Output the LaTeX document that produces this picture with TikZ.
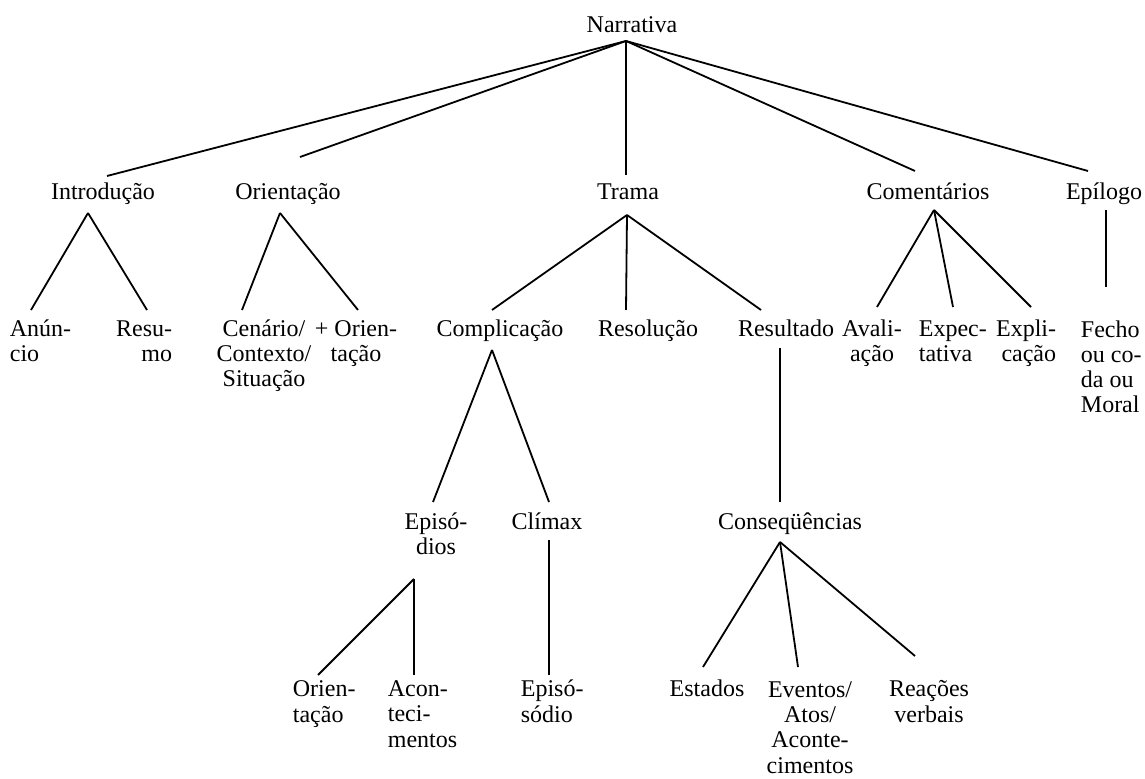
\documentclass[tikz,border=0pt]{standalone}
\usepackage{fontspec}
\setmainfont{Liberation Serif}
\usepackage{tikz}

\begin{document}
\begin{tikzpicture}[
        x=0.5pt, y=-0.5pt,
        line width=0.9pt,
        every node/.style={inner sep=0pt, font=\fontsize{12}{12.6}\selectfont},
        lab/.style={anchor=base},
        labl/.style={anchor=base west, align=left},
        labr/.style={anchor=base east, align=right},
        labc/.style={anchor=base, align=center}
        ]
        \useasboundingbox (0,0) rectangle (1145,779);

        % nivel 1 e 2
        \node[lab] (narr) at (632,33) {Narrativa};
        \node[lab] (intro) at (103,200) {Introdução};
        \node[lab] (orient) at (288,200) {Orientação};
        \node[lab] (trama) at (628,200) {Trama};
        \node[lab] (coment) at (928,200) {Comentários};
        \node[lab] (epil) at (1104,200) {Epílogo};

        % nivel 3 (base = ultima linha)
        \node[labl] (anun) at (9,362) {Anún-\\cio};
        \node[labr] (resumo) at (173,362) {Resu-\\mo};
        \node[labc] (cenario) at (264,387) {Cenário/\\Contexto/\\Situação};
        \node[labc] (maisor) at (356,362) {+ Orien-\\tação};
        \node[lab] (compl) at (500,337) {Complicação};
        \node[lab] (resol) at (648,337) {Resolução};
        \node[lab] (result) at (786,337) {Resultado};
        \node[labc] (aval) at (872,362) {Avali-\\ação};
        \node[labl] (expec) at (918,362) {Expec-\\tativa};
        \node[labr] (expli) at (1057,362) {Expli-\\cação};
        \node[labl] (fecho) at (1080,413) {Fecho\\ou co-\\da ou\\Moral};

        % nivel 4
        \node[labc] (episodios) at (436,555) {Episó-\\dios};
        \node[lab] (climax) at (547,530) {Clímax};
        \node[lab] (conseq) at (790,530) {Conseqüências};

        % nivel 5
        \node[labl] (orient2) at (292,722) {Orien-\\tação};
        \node[labl] (acont) at (387,747) {Acon-\\teci-\\mentos};
        \node[labl] (episodio) at (520,722) {Episó-\\sódio};
        \node[lab] (estados) at (707,697) {Estados};
        \node[labc] (eventos) at (810,773) {Eventos/\\Atos/\\Aconte-\\cimentos};
        \node[labc] (reacoes) at (929,722) {Reações\\verbais};

        % pontas das linhas
        \coordinate (narr-b) at (626,41);
        \coordinate (intro-t) at (107,176);
        \coordinate (orient-t) at (300,157);
        \coordinate (trama-t) at (626,175);
        \coordinate (coment-t) at (915,171);
        \coordinate (epil-t) at (1088,171);
        \coordinate (intro-b) at (88,213);
        \coordinate (anun-t) at (31,310);
        \coordinate (resumo-t) at (147,310);
        \coordinate (orient-b) at (280,213);
        \coordinate (cenario-t) at (242,310);
        \coordinate (maisor-t) at (358,310);
        \coordinate (trama-b) at (627,215);
        \coordinate (compl-t) at (492,310);
        \coordinate (resol-t) at (626,310);
        \coordinate (result-t) at (761,310);
        \coordinate (coment-b) at (934,210);
        \coordinate (aval-t) at (877,307);
        \coordinate (expec-t) at (953,307);
        \coordinate (expli-t) at (1031,307);
        \coordinate (epil-b) at (1106,210);
        \coordinate (fecho-t) at (1106,287);
        \coordinate (compl-b) at (492,350);
        \coordinate (episodios-t) at (433,502);
        \coordinate (climax-t) at (549,502);
        \coordinate (result-b) at (780,348);
        \coordinate (conseq-t) at (780,502);
        \coordinate (episodios-b) at (414,579);
        \coordinate (orient2-t) at (318,675);
        \coordinate (acont-t) at (414,675);
        \coordinate (climax-b) at (549,540);
        \coordinate (episodio-t) at (549,675);
        \coordinate (conseq-b) at (780,542);
        \coordinate (estados-t) at (703,667);
        \coordinate (eventos-t) at (798,667);
        \coordinate (reacoes-t) at (915,656);

        \path[draw]
              (narr-b) edge (intro-t)
              (narr-b) edge (orient-t)
              (narr-b) edge (trama-t)
              (narr-b) edge (coment-t)
              (narr-b) edge (epil-t)

              (intro-b) edge (anun-t)
              (intro-b) edge (resumo-t)
              (orient-b) edge (cenario-t)
              (orient-b) edge (maisor-t)
              (trama-b) edge (compl-t)
              (trama-b) edge (resol-t)
              (trama-b) edge (result-t)
              (coment-b) edge (aval-t)
              (coment-b) edge (expec-t)
              (coment-b) edge (expli-t)
              (epil-b) edge (fecho-t)

              (compl-b) edge (episodios-t)
              (compl-b) edge (climax-t)
              (result-b) edge (conseq-t)

              (episodios-b) edge (orient2-t)
              (episodios-b) edge (acont-t)
              (climax-b) edge (episodio-t)
              (conseq-b) edge (estados-t)
              (conseq-b) edge (eventos-t)
              (conseq-b) edge (reacoes-t);
\end{tikzpicture}
\end{document}
